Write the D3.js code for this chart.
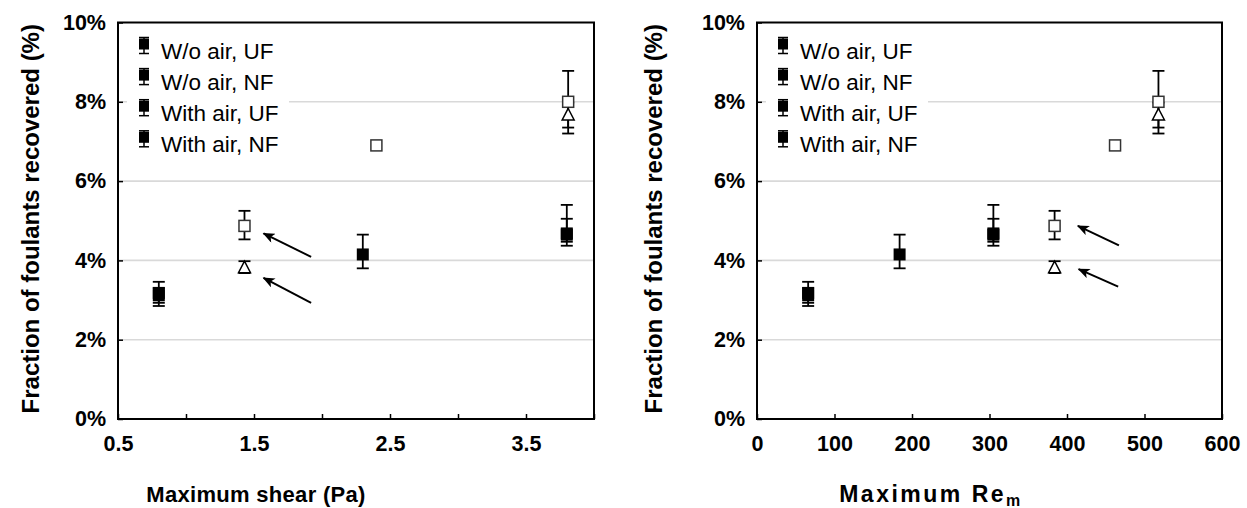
<!DOCTYPE html>
<html><head><meta charset="utf-8">
<script src="https://cdn.jsdelivr.net/npm/d3@7"></script>
<style>
body{margin:0;background:#fff}
svg{display:block}
text{font-family:"Liberation Sans",Arial,Helvetica,sans-serif}
</style>
</head><body>
<svg id="chart" width="1247" height="508"></svg>
<script>
// ---------- data ----------
const seriesNames = ["W/o air, UF", "W/o air, NF", "With air, UF", "With air, NF"];

// W/o air, UF (filled squares)
const shearWoUF = [0.8, 2.3, 3.8];
const reWoUF    = [66, 184, 305];
const valWoUF   = [3.18, 4.15, 4.68];
const plusWoUF  = [0.28, 0.50, 0.72];
const minusWoUF = [0.25, 0.35, 0.21];

// W/o air, NF (filled squares)
const shearWoNF = [0.8, 3.8];
const reWoNF    = [66, 305];
const valWoNF   = [3.12, 4.65];
const plusWoNF  = [0.18, 0.40];
const minusWoNF = [0.27, 0.28];

// With air, UF (open squares)
const shearAirUF = [1.43, 2.4, 3.81];
const reAirUF    = [384, 462, 518];
const valAirUF   = [4.87, 6.9, 8.0];
const plusAirUF  = [0.38, 0.0, 0.78];
const minusAirUF = [0.34, 0.0, 0.80];

// With air, NF (open triangles)
const shearAirNF = [1.43, 3.81];
const reAirNF    = [384, 518];
const valAirNF   = [3.83, 7.68];
const plusAirNF  = [0.15, 0.30];
const minusAirNF = [0.15, 0.33];

const yTicks = [0, 2, 4, 6, 8, 10];
const yTickLabels = ["0%", "2%", "4%", "6%", "8%", "10%"];
const shearTicks = [0.5, 1.0, 1.5, 2.0, 2.5, 3.0, 3.5, 4.0];
const shearTickLabels = ["0.5", "", "1.5", "", "2.5", "", "3.5", ""];
const reTicks = [0, 100, 200, 300, 400, 500, 600];
const reTickLabels = ["0", "100", "200", "300", "400", "500", "600"];

// annotation arrows (tail -> tip), in data units
const shearArrowTail = [[1.92, 4.09], [1.92, 2.93]];
const shearArrowTip  = [[1.57, 4.68], [1.57, 3.56]];
const reArrowTail    = [[467, 4.38], [466, 3.34]];
const reArrowTip     = [[414, 4.87], [415, 3.78]];

// ---------- drawing ----------
const svg = d3.select("#chart");
const defs = svg.append("defs");
defs.append("marker").attr("id", "ah").attr("viewBox", "0 0 12 10")
  .attr("refX", 11).attr("refY", 5).attr("markerWidth", 13).attr("markerHeight", 10)
  .attr("markerUnits", "userSpaceOnUse").attr("orient", "auto")
  .append("path").attr("d", "M0,0 L12,5 L0,10 L3,5 Z").attr("fill", "#000");

const TOP = 22.5, BOTTOM = 419;

function series(xs, vals, plus, minus, type) {
  return xs.map((x, i) => ({x, y: vals[i], p: plus[i], m: minus[i], type}));
}

function panel(cfg) {
  const g = svg.append("g");
  const x = d3.scaleLinear().domain(cfg.domain).range([cfg.left, cfg.right]);
  const y = d3.scaleLinear().domain([0, 10]).range([BOTTOM, TOP]);

  // gridlines
  g.selectAll(".grid").data(yTicks.filter(d => d > 0 && d < 10)).enter().append("line")
    .attr("x1", cfg.left).attr("x2", cfg.right)
    .attr("y1", d => y(d)).attr("y2", d => y(d))
    .attr("stroke", "#d9d9d9").attr("stroke-width", 1.6);

  // y axis
  const ya = d3.axisLeft(y).tickValues(yTicks).tickFormat((d, i) => yTickLabels[i])
    .tickSizeInner(-5).tickSizeOuter(0).tickPadding(12);
  const yg = g.append("g").attr("transform", `translate(${cfg.left},0)`).call(ya);
  yg.select(".domain").remove();
  yg.selectAll("line").attr("stroke", "#000").attr("stroke-width", 1.5);
  yg.selectAll("text").attr("font-size", 21.5).attr("font-weight", "bold").attr("fill", "#000")
    .attr("font-family", "Liberation Sans, Arial, sans-serif");

  // x axis
  const xa = d3.axisBottom(x).tickValues(cfg.ticks).tickFormat((d, i) => cfg.tickLabels[i])
    .tickSizeInner(-5).tickSizeOuter(0).tickPadding(17);
  const xg = g.append("g").attr("transform", `translate(0,${BOTTOM})`).call(xa);
  xg.select(".domain").remove();
  xg.selectAll("line").attr("stroke", "#000").attr("stroke-width", 1.5);
  xg.selectAll("text").attr("font-size", 21.5).attr("font-weight", "bold").attr("fill", "#000")
    .attr("font-family", "Liberation Sans, Arial, sans-serif");

  // frame
  g.append("rect").attr("x", cfg.left).attr("y", TOP)
    .attr("width", cfg.right - cfg.left).attr("height", BOTTOM - TOP)
    .attr("fill", "none").attr("stroke", "#000").attr("stroke-width", 2);

  // legend
  const lg = g.append("g");
  lg.append("rect").attr("x", cfg.left + 9).attr("y", TOP + 5).attr("width", cfg.legendW).attr("height", 135)
    .attr("fill", "#fff");
  seriesNames.forEach((name, i) => {
    const cy = TOP + 24 + i * 31.1;
    const cx = cfg.left + 26;
    lg.append("line").attr("x1", cx).attr("x2", cx).attr("y1", cy - 9).attr("y2", cy + 7)
      .attr("stroke", "#000").attr("stroke-width", 1.5);
    [cy - 9, cy + 7].forEach(c => lg.append("line").attr("x1", cx - 5).attr("x2", cx + 5)
      .attr("y1", c).attr("y2", c).attr("stroke", "#000").attr("stroke-width", 1.5));
    lg.append("rect").attr("x", cx - 5).attr("y", cy - 8).attr("width", 10).attr("height", 11).attr("fill", "#000");
    lg.append("text").attr("x", cx + 17).attr("y", cy + 12).attr("font-size", 22.5).attr("fill", "#000")
      .text(name);
  });

  // data
  const all = [].concat(
    series(cfg.xWoUF, valWoUF, plusWoUF, minusWoUF, "fill"),
    series(cfg.xWoNF, valWoNF, plusWoNF, minusWoNF, "fill"),
    series(cfg.xAirUF, valAirUF, plusAirUF, minusAirUF, "open"),
    series(cfg.xAirNF, valAirNF, plusAirNF, minusAirNF, "tri"));
  const pts = g.append("g");
  all.forEach(d => {
    const px = x(d.x);
    if (d.p > 0 || d.m > 0) {
      const yt = y(d.y + d.p), yb = y(d.y - d.m);
      pts.append("line").attr("x1", px).attr("x2", px).attr("y1", yt).attr("y2", yb)
        .attr("stroke", "#000").attr("stroke-width", 1.8);
      [yt, yb].forEach(c => pts.append("line").attr("x1", px - 6).attr("x2", px + 6)
        .attr("y1", c).attr("y2", c).attr("stroke", "#000").attr("stroke-width", 1.8));
    }
  });
  all.forEach(d => {
    const px = x(d.x), py = y(d.y);
    if (d.type === "fill") {
      pts.append("rect").attr("x", px - 6).attr("y", py - 6).attr("width", 12).attr("height", 12).attr("fill", "#000");
    } else if (d.type === "open") {
      pts.append("rect").attr("x", px - 5.5).attr("y", py - 5.5).attr("width", 11).attr("height", 11)
        .attr("fill", "#fff").attr("stroke", "#333").attr("stroke-width", 1.5);
    } else {
      pts.append("path").attr("d", `M${px},${py - 6} L${px + 6},${py + 5.5} L${px - 6},${py + 5.5} Z`)
        .attr("fill", "#fff").attr("stroke", "#000").attr("stroke-width", 1.5);
    }
  });

  // arrows
  cfg.arrowTail.forEach((t, i) => {
    const h = cfg.arrowTip[i];
    g.append("line").attr("x1", x(t[0])).attr("y1", y(t[1])).attr("x2", x(h[0])).attr("y2", y(h[1]))
      .attr("stroke", "#000").attr("stroke-width", 2).attr("marker-end", "url(#ah)");
  });

  // axis titles
  g.append("text").attr("transform", `translate(${cfg.yTitleX},${(TOP + BOTTOM) / 2 - 2}) rotate(-90)`)
    .attr("text-anchor", "middle").attr("dominant-baseline", "central")
    .attr("font-size", 24).attr("font-weight", "bold").attr("fill", "#000")
    .text("Fraction of foulants recovered (%)");
  const xt = g.append("text").attr("x", cfg.xTitleX).attr("y", 502)
    .attr("text-anchor", "middle").attr("font-weight", "bold").attr("fill", "#000");
  cfg.xTitle(xt);
}

panel({
  left: 118, right: 594, domain: [0.5, 4.0], ticks: shearTicks, tickLabels: shearTickLabels,
  xWoUF: shearWoUF, xWoNF: shearWoNF, xAirUF: shearAirUF, xAirNF: shearAirNF,
  arrowTail: shearArrowTail, arrowTip: shearArrowTip, legendW: 162,
  yTitleX: 30, xTitleX: 256,
  xTitle: t => t.attr("font-size", 22).attr("letter-spacing", 0.3).text("Maximum shear (Pa)")
});
panel({
  left: 757, right: 1222, domain: [0, 600], ticks: reTicks, tickLabels: reTickLabels,
  xWoUF: reWoUF, xWoNF: reWoNF, xAirUF: reAirUF, xAirNF: reAirNF,
  arrowTail: reArrowTail, arrowTip: reArrowTip, legendW: 162,
  yTitleX: 653, xTitleX: 931,
  xTitle: t => { t.attr("font-size", 23).attr("letter-spacing", 2.5);
    t.append("tspan").text("Maximum Re");
    t.append("tspan").attr("dy", 4).attr("font-size", 16).text("m"); }
});
</script>
</body></html>
